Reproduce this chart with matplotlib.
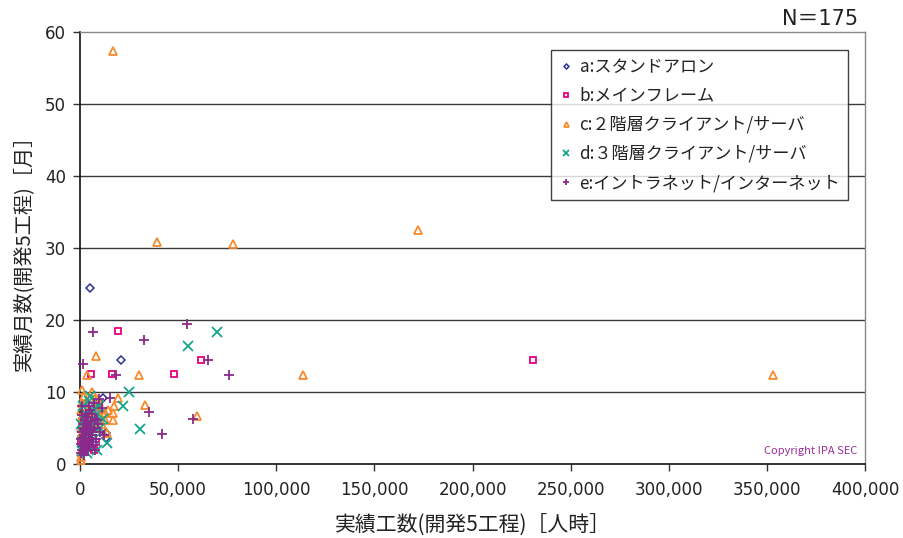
import matplotlib
matplotlib.use("Agg")
import matplotlib.pyplot as plt
from matplotlib.ticker import FuncFormatter

plt.rcParams['font.family'] = ['Noto Sans CJK JP', 'DejaVu Sans']

# ---- data: effort (person-hours) vs. duration (months) -------------------
labels = ["a:スタンドアロン", "b:メインフレーム", "c:２階層クライアント/サーバ",
          "d:３階層クライアント/サーバ", "e:イントラネット/インターネット"]

a_x = [5000, 21000, 11500, 8500, 7500, 13300, 13500, 2500, 1200, 3500, 4500, 2000,
       6500, 800, 3000, 5500]
a_y = [24.4, 14.5, 9.2, 7.9, 8.5, 4.3, 3.6, 8.3, 5.2, 3.5, 6.1, 2.6,
       4.8, 3.9, 7.0, 2.2]

b_x = [5400, 19300, 16500, 48000, 61500, 231000, 300, 1500, 8200, 2000, 3500, 1000,
       6000, 4500, 2500, 7000]
b_y = [12.5, 18.5, 12.5, 12.5, 14.5, 14.5, 3.1, 3.1, 3.1, 4.0, 2.5, 6.0,
       5.0, 3.8, 7.0, 2.0]

c_x = [16800, 39000, 78000, 172000, 113500, 353000, 8100, 3600, 30000, 850, 6000, 8500,
       19200, 17300, 33000, 12700, 16900, 12700, 16900, 59500, 13600,
       500, 300, 1000, 1500, 800, 2000, 1200, 3000, 2500, 500, 4000, 6000, 7000, 9000,
       10000, 11000, 5000, 1800, 3500, 600, 2200, 8000, 14500, 1000, 4500, 700, 1400,
       2600, 5500, 9500, 300]
c_y = [57.3, 30.9, 30.6, 32.5, 12.3, 12.3, 15.0, 12.3, 12.3, 10.3, 10.0, 9.0,
       9.2, 8.0, 8.2, 7.1, 7.1, 6.1, 6.1, 6.7, 4.3,
       1.0, 0.6, 2.0, 5.5, 6.5, 4.5, 3.0, 6.0, 8.0, 7.5, 7.0, 6.5, 8.0, 7.5,
       6.8, 5.5, 9.0, 9.5, 5.0, 4.0, 2.0, 5.0, 7.5, 8.5, 4.0, 1.6, 2.5,
       3.5, 5.8, 8.6, 5.0]

d_x = [70000, 55000, 25000, 21700, 30500, 13700,
       5100, 3000, 6000, 2000, 8000, 1000, 4000, 7000, 9500, 500, 2500, 5500, 3500,
       10000, 1500, 8500, 6500, 4500, 1200, 11500]
d_y = [18.3, 16.4, 10.0, 8.0, 4.8, 2.9,
       9.5, 7.0, 5.5, 4.0, 6.8, 3.0, 2.5, 3.5, 8.0, 5.5, 6.0, 4.5, 1.5,
       5.0, 8.0, 2.0, 7.5, 8.8, 1.8, 6.2]

e_x = [1500, 6600, 32500, 54500, 65000, 76000, 18500, 57500, 42000, 35000, 15300, 8500,
       10000,
       500, 1000, 1500, 2000, 2500, 3000, 3500, 4000, 4500, 5000,
       5500, 6000, 6500, 7000, 7500, 8000, 1000, 1500, 2000, 2500,
       3000, 3500, 4000, 4500, 5000, 5500, 500, 1200, 2800, 3800,
       6200, 7200, 9000, 800, 2200, 5200, 3300, 4300, 6800, 1800,
       9500, 11000, 12000, 2600, 4800, 3200, 1600, 5800, 7800, 700,
       2000, 4200]
e_y = [13.9, 18.3, 17.2, 19.5, 14.4, 12.3, 12.3, 6.2, 4.2, 7.2, 9.2, 6.1,
       4.5,
       1.5, 2.0, 2.5, 3.0, 3.5, 4.0, 2.0, 3.0, 4.5, 2.5,
       3.5, 4.0, 3.0, 5.0, 2.0, 3.5, 4.5, 5.0, 5.5, 6.0,
       7.0, 5.5, 6.5, 8.0, 7.5, 6.0, 3.5, 6.8, 2.2, 4.8,
       7.0, 8.5, 5.5, 8.0, 1.8, 5.2, 3.2, 1.9, 2.6, 4.0,
       9.0, 7.8, 4.0, 4.6, 3.3, 2.7, 3.6, 4.7, 6.3, 2.8,
       1.2, 5.8]

x_ticks = [0, 50000, 100000, 150000, 200000, 250000, 300000, 350000, 400000]
y_ticks = [0, 10, 20, 30, 40, 50, 60]

n_total = len(a_x) + len(b_x) + len(c_x) + len(d_x) + len(e_x)

# ---- styling -------------------------------------------------------------
series = [
    (a_x, a_y, "D", "#2e3192", 4.2, 1.1),
    (b_x, b_y, "s", "#e6007e", 5.0, 1.3),
    (c_x, c_y, "^", "#f58a2e", 6.0, 1.3),
    (d_x, d_y, "x", "#14a58a", 6.5, 1.3),
    (e_x, e_y, "+", "#8a2a8c", 7.5, 1.3),
]
num_font = ['DejaVu Sans', 'Noto Sans CJK JP']

fig = plt.figure(figsize=(9.04, 5.38), dpi=100)
ax = fig.add_axes([80 / 904, 74 / 538, 785 / 904, 432 / 538])

for (xs, ys, mk, col, ms, lw), lab in zip(series, labels):
    filled = mk in ("x", "+")
    ax.plot(xs, ys, linestyle="none", marker=mk, markersize=ms,
            markeredgewidth=lw, markeredgecolor=col,
            markerfacecolor=col if filled else "none", label=lab,
            clip_on=False, zorder=3)

ax.set_xlim(0, 400000)
ax.set_ylim(0, 60)
ax.set_xticks(x_ticks)
ax.set_yticks(y_ticks)
ax.xaxis.set_major_formatter(FuncFormatter(lambda v, p: f"{int(v):,}"))
ax.tick_params(axis="both", direction="out", length=5, width=1, color="#333333",
               labelsize=12, labelcolor="#222222")
ax.tick_params(axis="x", pad=7)
ax.tick_params(axis="y", pad=5)
for lbl in ax.get_xticklabels() + ax.get_yticklabels():
    lbl.set_family(num_font)

for yv in y_ticks[1:-1]:
    ax.axhline(yv, color="#3a3a3a", lw=1.0, zorder=1)

for side in ("left", "bottom"):
    ax.spines[side].set_color("#111111")
    ax.spines[side].set_linewidth(1.2)
for side in ("top", "right"):
    ax.spines[side].set_color("#888888")
    ax.spines[side].set_linewidth(1.0)

ax.set_xlabel("実績工数(開発5工程)［人時］", fontsize=15, color="#222222", labelpad=11)
ax.set_ylabel("実績月数(開発5工程)［月］", fontsize=14.5, color="#222222", labelpad=8)

leg = ax.legend(loc="upper right", bbox_to_anchor=(848 / 904, 488 / 538),
                bbox_transform=fig.transFigure, frameon=True, fancybox=False,
                edgecolor="#111111", fontsize=12.3, markerscale=0.6,
                handlelength=0.8, handletextpad=0.4, labelspacing=0.65,
                borderpad=0.45, borderaxespad=0.0)
leg.get_frame().set_linewidth(1.0)
for t in leg.get_texts():
    t.set_color("#222222")

fig.text(858 / 904, 1 - 19 / 538, f"N＝{n_total}", ha="right", va="center",
         fontsize=15, color="#222222", family=num_font)
ax.text(0.99, 0.03, "Copyright IPA SEC", transform=ax.transAxes, ha="right",
        va="center", fontsize=8, color="#9b2f9b")

fig.savefig("out.png", dpi=100)
